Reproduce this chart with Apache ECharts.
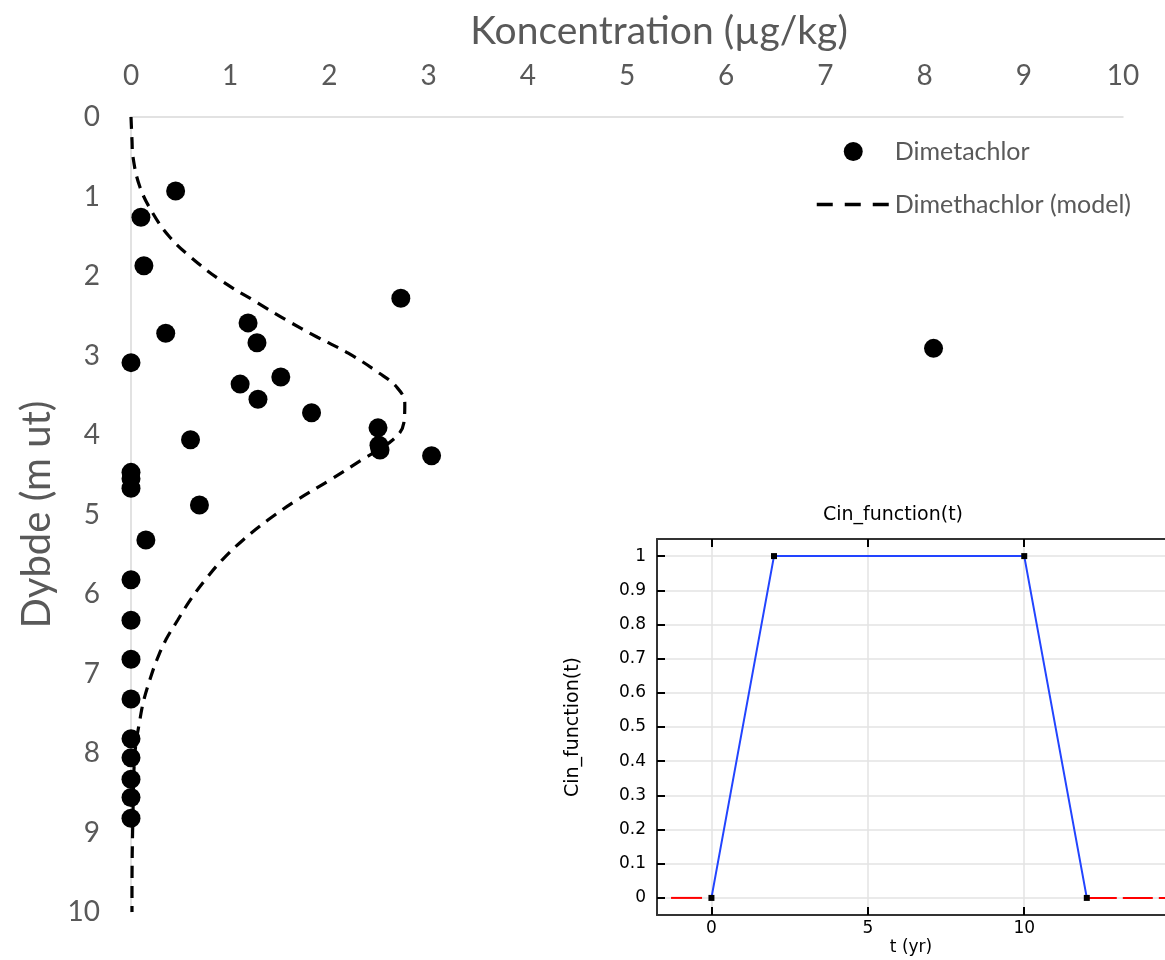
<!DOCTYPE html>
<html>
<head>
<meta charset="utf-8">
<script src="https://cdn.jsdelivr.net/npm/echarts@6/dist/echarts.min.js"></script>
<style>
  html, body { margin: 0; padding: 0; background: #ffffff; }
  #chart { width: 1165px; height: 960px; }
</style>
</head>
<body>
<div id="chart"></div>
<script>
// Measured Dimetachlor concentrations (µg/kg) against depth (m below surface)
const obsConc  = [0.45, 0.10, 0.13, 2.72, 1.18, 0.35, 1.27, 0.00, 1.51, 1.10, 1.28, 1.82, 2.49, 0.60, 2.50, 2.51, 3.03,
                  0.00, 0.00, 0.00, 0.69, 0.15, 0.00, 0.00, 0.00, 0.00, 0.00, 0.00, 0.00, 0.00, 0.00, 8.09];
const obsDepth = [0.93, 1.26, 1.87, 2.28, 2.59, 2.72, 2.84, 3.09, 3.27, 3.36, 3.55, 3.72, 3.91, 4.06, 4.13, 4.19, 4.26,
                  4.47, 4.55, 4.67, 4.88, 5.32, 5.82, 6.33, 6.82, 7.32, 7.82, 8.06, 8.33, 8.56, 8.82, 2.91];

// Modelled concentration profile
const modelDepth = [0.00, 0.29, 0.50, 0.88, 1.21, 1.51, 1.76, 2.05, 2.34, 2.55, 2.77, 2.97, 3.22, 3.40, 3.60, 3.85,
                    4.06, 4.31, 4.57, 4.82, 5.07, 5.32, 5.57, 5.82, 6.07, 6.33, 6.58, 6.83, 7.08, 7.33, 7.58, 8.00,
                    8.75, 9.80, 10.00];
const modelConc  = [0.00, 0.01, 0.02, 0.09, 0.22, 0.39, 0.60, 0.90, 1.28, 1.56, 1.88, 2.19, 2.50, 2.68, 2.76, 2.75,
                    2.64, 2.33, 2.00, 1.67, 1.38, 1.13, 0.92, 0.75, 0.60, 0.47, 0.35, 0.26, 0.19, 0.13, 0.09, 0.04,
                    0.02, 0.01, 0.01];

// Input function Cin(t): trapezoid pulse
const cinT   = [0, 2, 10, 12];
const cinVal = [0, 1, 1, 0];
// Constant extrapolation outside the defined interval
const extrapLeftT  = [-0.3, -1.74];
const extrapRightT = [12, 14.5];

const concTicks  = [0, 1, 2, 3, 4, 5, 6, 7, 8, 9, 10];
const cinXTicks  = [0, 5, 10];
const cinYTicks  = [0, 0.1, 0.2, 0.3, 0.4, 0.5, 0.6, 0.7, 0.8, 0.9, 1];

const mainFont = 'Lato';
const insetFont = 'DejaVu Sans';
const grey = '#595959';

const zip = (a, b) => a.map((v, i) => [v, b[i]]);

const chart = echarts.init(document.getElementById('chart'), null, { renderer: 'canvas' });

chart.setOption({
  animation: false,
  backgroundColor: '#ffffff',
  title: {
    text: 'Cin_function(t)',
    left: 893,
    top: 506,
    padding: 0,
    textAlign: 'center',
    textStyle: { fontFamily: insetFont, fontSize: 19, fontWeight: 'normal', color: '#000' }
  },
  legend: {
    orient: 'vertical',
    left: 815,
    top: 139,
    padding: 0,
    itemWidth: 73,
    itemHeight: 19,
    itemGap: 28,
    textStyle: { fontFamily: mainFont, fontSize: 25, color: grey },
    data: [
      { name: 'Dimetachlor', icon: 'circle', itemStyle: { color: '#000', opacity: 1 } },
      {
        name: 'Dimethachlor (model)',
        itemStyle: { color: 'rgba(0,0,0,0)', borderWidth: 0, opacity: 0 },
        lineStyle: { type: [16, 12], width: 3.5, color: '#000', opacity: 1 }
      }
    ]
  },
  grid: [
    { left: 131, top: 117, width: 992, height: 795 },
    { left: 657, top: 539, width: 552, height: 376 }
  ],
  xAxis: [
    {
      gridIndex: 0, type: 'value', position: 'top',
      min: 0, max: 10, interval: 1,
      name: 'Koncentration (µg/kg)', nameLocation: 'middle', nameGap: 66,
      nameTextStyle: { fontFamily: mainFont, fontSize: 39, color: grey, padding: [0, 0, 0, 64] },
      axisLine: { show: true, lineStyle: { color: '#d9d9d9', width: 1.5 } },
      axisTick: { show: false },
      splitLine: { show: false },
      axisLabel: {
        margin: 27, fontFamily: mainFont, fontSize: 28, color: grey,
        customValues: concTicks
      }
    },
    {
      gridIndex: 1, type: 'value', position: 'bottom',
      min: -1.74, max: 14.5,
      name: 't (yr)', nameLocation: 'middle', nameGap: 24,
      nameTextStyle: { fontFamily: insetFont, fontSize: 17, color: '#000' },
      axisLine: { show: true, onZero: false, lineStyle: { color: '#333', width: 2 } },
      axisTick: { show: true, inside: true, length: 8, lineStyle: { color: '#000', width: 2 }, customValues: cinXTicks },
      axisLabel: { margin: 5, fontFamily: insetFont, fontSize: 17, color: '#000', customValues: cinXTicks },
      splitLine: { show: true, lineStyle: { color: '#e3e3e3', width: 1.5 } }
    },
    {
      gridIndex: 1, type: 'value', position: 'top',
      min: -1.74, max: 14.5,
      axisLine: { show: true, onZero: false, lineStyle: { color: '#333', width: 2 } },
      axisTick: { show: true, inside: true, length: 8, lineStyle: { color: '#000', width: 2 }, customValues: cinXTicks },
      axisLabel: { show: false },
      splitLine: { show: false }
    }
  ],
  yAxis: [
    {
      gridIndex: 0, type: 'value', inverse: true,
      min: 0, max: 10, interval: 1,
      name: 'Dybde (m ut)', nameLocation: 'middle', nameGap: 73,
      nameTextStyle: { fontFamily: mainFont, fontSize: 40, color: grey },
      axisLine: { show: true, lineStyle: { color: '#d9d9d9', width: 1.5 } },
      axisTick: { show: false },
      splitLine: { show: false },
      axisLabel: { margin: 31, fontFamily: mainFont, fontSize: 28, color: grey }
    },
    {
      gridIndex: 1, type: 'value',
      min: -0.05, max: 1.05,
      name: 'Cin_function(t)', nameLocation: 'middle', nameGap: 74,
      nameTextStyle: { fontFamily: insetFont, fontSize: 19, color: '#000' },
      axisLine: { show: true, onZero: false, lineStyle: { color: '#333', width: 2 } },
      axisTick: { show: true, inside: true, length: 8, lineStyle: { color: '#000', width: 2 }, customValues: cinYTicks },
      axisLabel: { margin: 11, fontFamily: insetFont, fontSize: 17, color: '#000', customValues: cinYTicks },
      splitLine: { show: true, lineStyle: { color: '#e3e3e3', width: 1.5 } }
    }
  ],
  series: [
    {
      name: 'Dimethachlor (model)',
      type: 'line',
      xAxisIndex: 0, yAxisIndex: 0,
      data: zip(modelConc, modelDepth),
      smooth: 0.4,
      showSymbol: false,
      symbol: 'none',
      itemStyle: { color: '#000' },
      lineStyle: { color: '#000', width: 3.2, type: [12, 8] },
      z: 2
    },
    {
      name: 'Dimetachlor',
      type: 'scatter',
      xAxisIndex: 0, yAxisIndex: 0,
      data: zip(obsConc, obsDepth),
      symbol: 'circle',
      symbolSize: 19,
      itemStyle: { color: '#000', opacity: 1 },
      z: 3
    },
    {
      name: 'Cin extrapolation left',
      type: 'line',
      xAxisIndex: 1, yAxisIndex: 1,
      data: extrapLeftT.map(t => [t, 0]),
      symbol: 'none',
      lineStyle: { color: '#ff0000', width: 2, type: [31, 100] },
      z: 3
    },
    {
      name: 'Cin extrapolation right',
      type: 'line',
      xAxisIndex: 1, yAxisIndex: 1,
      data: extrapRightT.map(t => [t, 0]),
      symbol: 'none',
      lineStyle: { color: '#ff0000', width: 2, type: [30, 6] },
      z: 3
    },
    {
      name: 'Cin_function(t)',
      type: 'line',
      xAxisIndex: 1, yAxisIndex: 1,
      data: zip(cinT, cinVal),
      symbol: 'rect',
      symbolSize: 6,
      showSymbol: true,
      itemStyle: { color: '#000' },
      lineStyle: { color: '#2244ff', width: 2 },
      clip: false,
      z: 4
    }
  ]
});
</script>
</body>
</html>
